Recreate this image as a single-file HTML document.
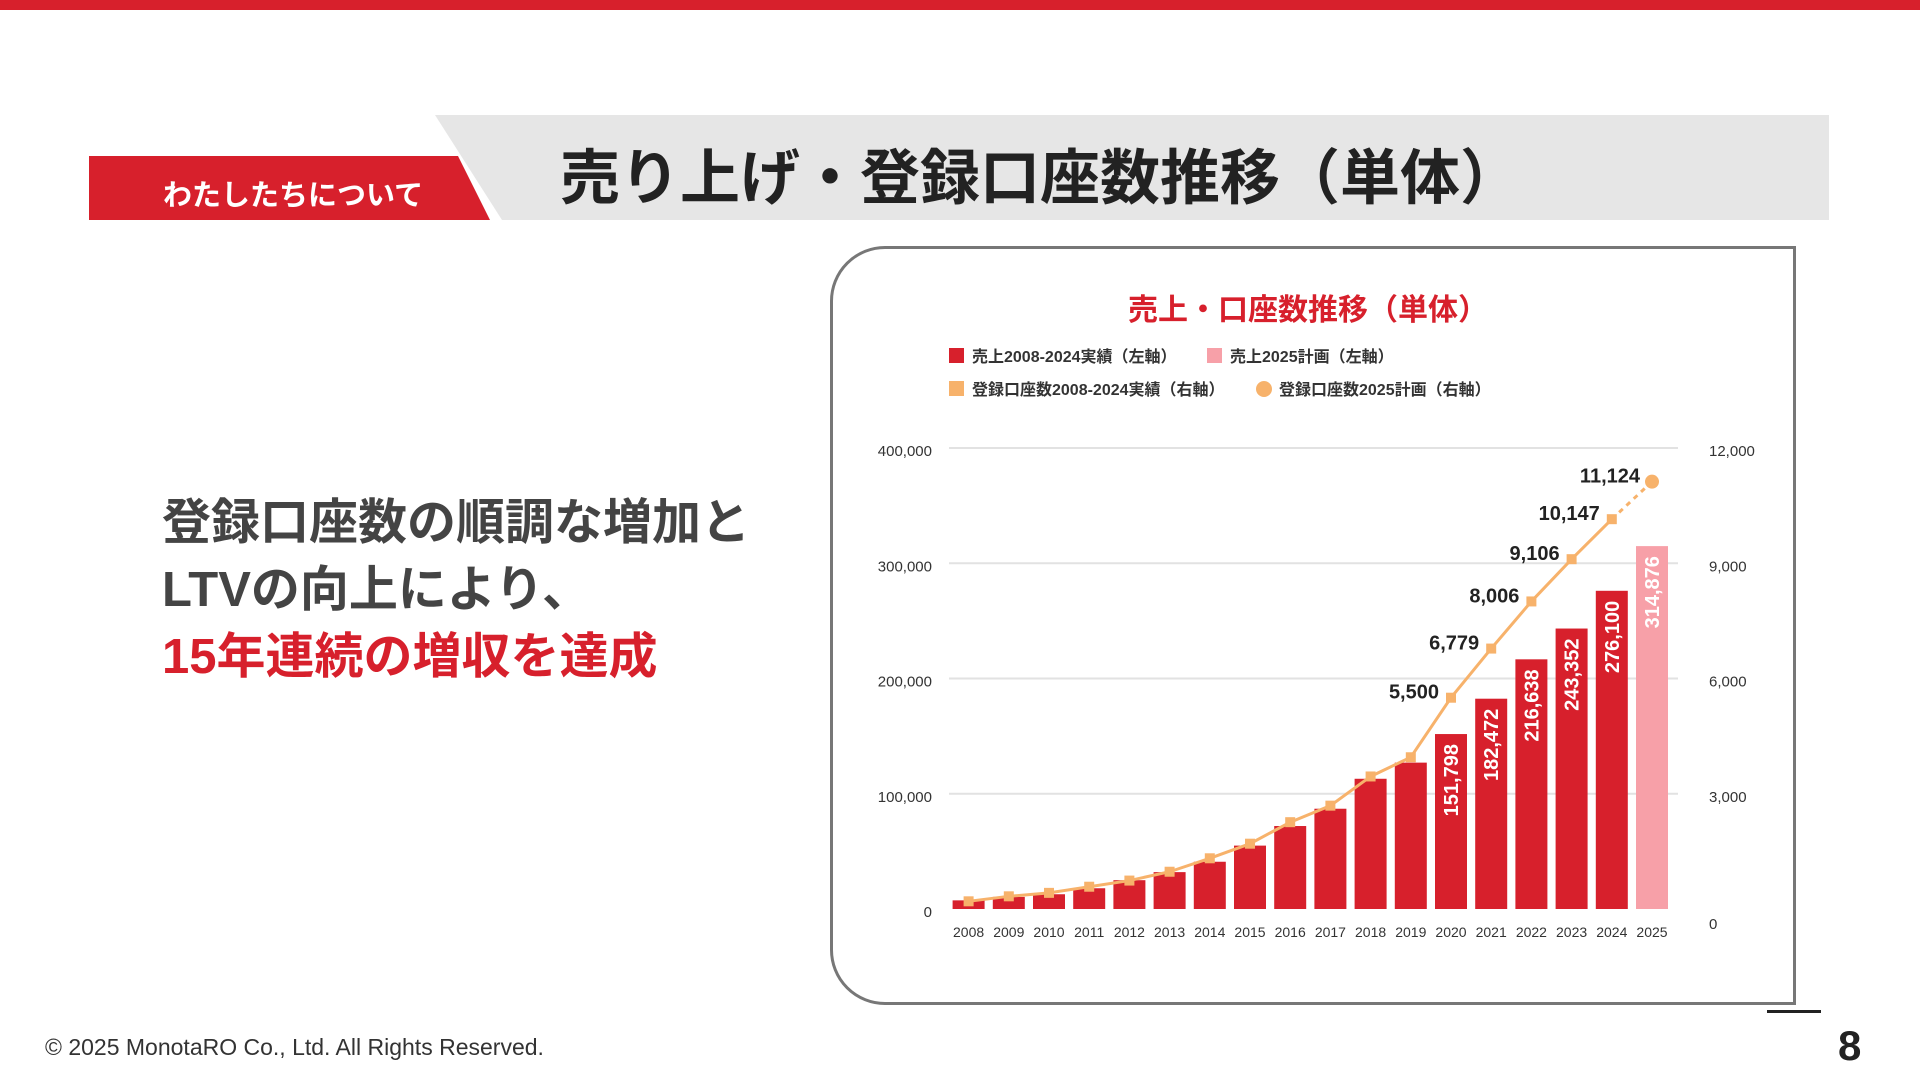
<!DOCTYPE html>
<html><head><meta charset="utf-8"><style>
body{margin:0;width:1920px;height:1080px;background:#fff;overflow:hidden;position:relative;font-family:"Liberation Sans","Noto Sans CJK JP",sans-serif}
.abs{position:absolute}
</style></head><body>
<div class="abs" style="left:0;top:0;width:1920px;height:10px;background:#d7202c"></div>
<svg class="abs" style="left:0;top:0" width="1920" height="1080">
<polygon points="435,115 1829,115 1829,220 502,220" fill="#e6e6e6"/>
<polygon points="89,156 458,156 490,220 89,220" fill="#d7202c"/>
</svg>
<div class="abs" style="left:163px;top:172px;color:#fff;font-size:29px;font-weight:bold;white-space:nowrap">わたしたちについて</div>
<div class="abs" style="left:560px;top:130px;font-size:60px;font-weight:bold;color:#222;white-space:nowrap">売り上げ・登録口座数推移（単体）</div>
<div class="abs" style="left:162px;top:490px;font-size:49px;font-weight:bold;color:#444;line-height:67px;white-space:nowrap">登録口座数の順調な増加と<br>LTVの向上により、<br><span style="color:#d7202c">15年連続の増収を達成</span></div>
<div class="abs" style="left:45px;top:1034px;font-size:23px;color:#333">© 2025 MonotaRO Co., Ltd. All Rights Reserved.</div>
<div class="abs" style="left:1838px;top:1022px;font-size:42px;font-weight:bold;color:#222">8</div>
<div class="abs" style="left:1767px;top:1010px;width:54px;height:3px;background:#222"></div>
<div class="abs" style="left:830px;top:246px;width:966px;height:759px;border:3px solid #777;border-radius:55px 0 0 55px;box-sizing:border-box"></div>
<svg id="chart" class="abs" style="left:0;top:0" width="1920" height="1080"></svg>
<script>
const years=["2008","2009","2010","2011","2012","2013","2014","2015","2016","2017","2018","2019","2020","2021","2022","2023","2024","2025"];
const sales=[7500,10500,12800,18000,25000,32000,41000,55000,72000,87000,113000,127000,151798,182472,216638,243352,276100,314876];
const salesLabels=["","","","","","","","","","","","","151,798","182,472","216,638","243,352","276,100","314,876"];
const accounts=[200,330,420,580,740,970,1320,1700,2260,2690,3450,3950,5500,6779,8006,9106,10147,11124];
const accLabels=["","","","","","","","","","","","","5,500","6,779","8,006","9,106","10,147","11,124"];
const leftTicks=[0,100000,200000,300000,400000];
const rightTicks=[0,3000,6000,9000,12000];
const svg=document.getElementById('chart');const NS='http://www.w3.org/2000/svg';
function mk(t,a,txt){const e=document.createElementNS(NS,t);for(const k in a)e.setAttribute(k,a[k]);if(txt!=null)e.textContent=txt;svg.appendChild(e);return e;}
const y0=909,y1=448,xs=968.6,step=40.2;
const yL=v=>y0-(v/400000)*(y0-y1);
const yR=v=>y0-(v/12000)*(y0-y1);
const xC=i=>xs+i*step;
const F='"Liberation Sans","Noto Sans CJK JP",sans-serif';
let t=mk('text',{x:1308,y:320,'text-anchor':'middle','font-size':30,'font-weight':'bold',fill:'#d7202c','font-family':F},'売上・口座数推移（単体）');

const leg=[[949,356,'rect','#d7202c','売上2008-2024実績（左軸）'],[1207,356,'rect','#f7a0a8','売上2025計画（左軸）'],[949,389,'rect','#f7b26b','登録口座数2008-2024実績（右軸）'],[1256,389,'circle','#f7b26b','登録口座数2025計画（右軸）']];
leg.forEach(l=>{let m;if(l[2]=='rect')m=mk('rect',{x:l[0],y:l[1]-8,width:15,height:15,fill:l[3]});else m=mk('circle',{cx:l[0]+8,cy:l[1],r:8,fill:l[3]});

let tx=mk('text',{x:l[0]+23,y:l[1]+6,'font-size':16,'font-weight':'bold',fill:'#333','font-family':F},l[4]);
});
leftTicks.forEach(v=>{if(v>0){let g=mk('line',{x1:949,x2:1678,y1:yL(v),y2:yL(v),stroke:'#e2e2e2','stroke-width':2});}
let tx=mk('text',{x:932,y:yL(v)+8,'text-anchor':'end','font-size':15,fill:'#333','font-family':F},v.toLocaleString('en-US'));
});
rightTicks.forEach(v=>{let tx=mk('text',{x:1709,y:yR(v)+8+(v==0?12:0),'font-size':15,fill:'#333','font-family':F},v.toLocaleString('en-US'));
});
years.forEach((yr,i)=>{const top=yL(sales[i]);
let b=mk('rect',{x:xC(i)-16,y:top,width:32,height:y0-top,fill:i==17?'#f7a0a8':'#d7202c'});

let tx=mk('text',{x:xC(i),y:937,'text-anchor':'middle','font-size':14,fill:'#333','font-family':F},yr);

if(salesLabels[i]){let bl=mk('text',{x:0,y:0,transform:`translate(${xC(i)+7},${top+10}) rotate(-90)`,'text-anchor':'end','font-size':20,'font-weight':'bold',fill:'#fff','font-family':F},salesLabels[i]);
}});
let d='';for(let i=0;i<17;i++)d+=(i?'L':'M')+xC(i)+','+yR(accounts[i]);
let ln=mk('path',{d:d,fill:'none',stroke:'#f7b26b','stroke-width':3});
let dl=mk('line',{x1:xC(16),y1:yR(accounts[16]),x2:xC(17),y2:yR(accounts[17]),stroke:'#f7b26b','stroke-width':3,'stroke-dasharray':'5,5'});

accounts.forEach((v,i)=>{let m;if(i<17)m=mk('rect',{x:xC(i)-5,y:yR(v)-5,width:10,height:10,fill:'#f7b26b'});else m=mk('circle',{cx:xC(i),cy:yR(v),r:7,fill:'#f7b26b'});

if(accLabels[i]){let tx=mk('text',{x:xC(i)-12,y:yR(v)+1,'text-anchor':'end','font-size':20,'font-weight':'bold',fill:'#222','font-family':F},accLabels[i]);
}});
</script>
</body></html>
